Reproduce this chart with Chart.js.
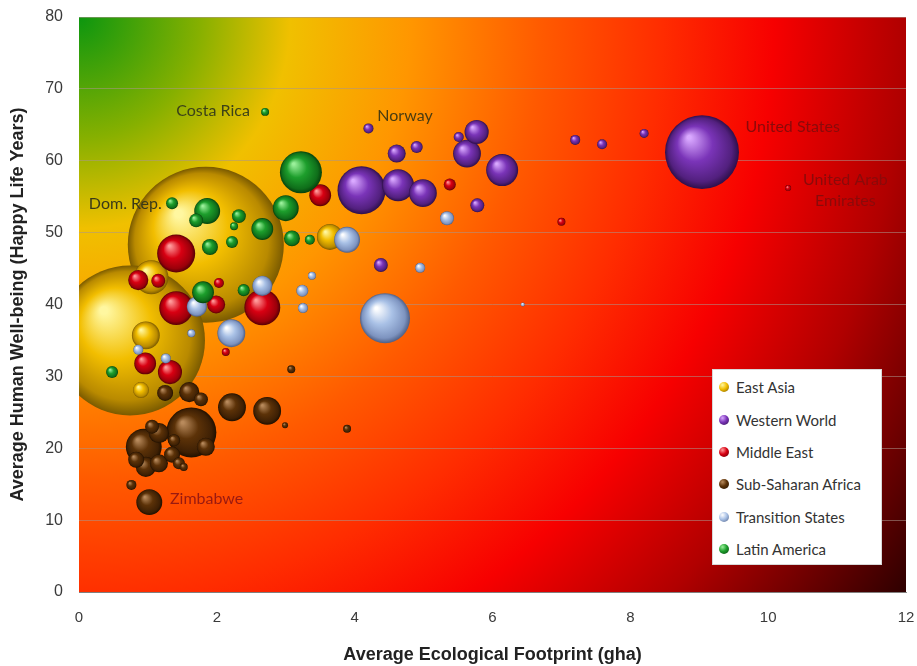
<!DOCTYPE html>
<html lang="en">
<head>
<meta charset="UTF-8">
<title>Happy Life Years vs Ecological Footprint</title>
<script src="https://cdn.jsdelivr.net/npm/chart.js"></script>
<style>
    body { margin: 0; background: #fff; }
    .wrap { position: relative; width: 917px; height: 666px; }
    #legend {
        position: absolute; left: 712px; top: 369px; width: 170px; height: 196px;
        background: #fff; border: 1px solid #d8d8d8; box-sizing: border-box; padding-top: 1px;
        font-family: Lato, "Open Sans", sans-serif; font-size: 15px; color: #333;
    }
    .item { display: flex; align-items: center; height: 32.4px; }
    .dot { width: 10px; height: 10px; border-radius: 50%; margin: 0 7px 0 6px; }
</style>
</head>
<body>
<div class="wrap">
    <canvas id="chart" width="917" height="666"></canvas>
    <div id="legend"></div>
</div>
<script>
// x = ecological footprint (gha), y = happy life years, pop = population (millions)
const eastAsiaX   = [1.84, 0.74, 1.05, 0.97, 0.90, 3.64];
const eastAsiaY   = [48.3, 35.0, 43.8, 35.7, 28.1, 49.4];
const eastAsiaPop = [1380, 1275, 66, 44, 14.5, 38];

const westernX   = [9.04, 4.10, 4.63, 4.99, 6.14, 5.63, 5.77, 5.51, 4.61, 4.90, 4.20, 7.20, 7.59, 8.20, 5.78, 4.38];
const westernY   = [61.2, 55.9, 56.6, 55.5, 58.7, 61.0, 64.0, 63.3, 61.0, 61.9, 64.5, 62.9, 62.3, 63.8, 53.8, 45.5];
const westernPop = [310, 131, 58, 44, 58, 44, 33, 5.7, 18.4, 8.2, 5.7, 5.7, 5.7, 4.6, 11, 11];

const middleEastX   = [1.41, 1.41, 2.66, 0.86, 1.15, 2.03, 1.99, 0.96, 1.32, 2.13, 3.50, 5.38, 7.00, 10.29];
const middleEastY   = [47.1, 39.5, 39.6, 43.4, 43.3, 43.0, 40.0, 31.8, 30.6, 33.4, 55.2, 56.7, 51.5, 56.2];
const middleEastPop = [82, 65, 73, 23, 11, 5.7, 18.4, 27, 33, 3.6, 27, 8.2, 3.6, 2.0];

const africaX   = [1.63, 0.94, 1.02, 2.22, 2.73, 1.60, 1.16, 0.97, 1.84, 1.16, 1.35, 0.83, 1.25, 1.77, 1.06, 1.45, 1.38, 0.76, 1.52, 2.99, 3.08, 3.89];
const africaY   = [22.2, 20.2, 12.5, 25.7, 25.2, 27.8, 22.1, 17.4, 20.2, 17.9, 19.1, 18.4, 27.7, 26.8, 23.0, 17.9, 21.1, 14.9, 17.4, 23.2, 31.0, 22.7];
const africaPop = [142, 73, 38, 44, 44, 23, 23, 23, 18.4, 18.4, 14.5, 14.5, 14.5, 11, 11, 8.2, 8.2, 5.7, 3.6, 2.0, 3.6, 3.6];

const transitionX   = [4.44, 3.89, 2.21, 2.66, 1.71, 5.34, 4.95, 3.38, 3.24, 3.25, 6.44, 1.63, 0.86, 1.26, 3.34, 3.89];
const transitionY   = [38.1, 49.0, 36.0, 42.6, 39.7, 52.0, 45.1, 44.0, 41.9, 39.5, 40.0, 36.0, 33.7, 32.5, 49.0, 54.1];
const transitionPop = [142, 38, 44, 23, 23, 11, 5.7, 3.6, 8.2, 5.7, 0.9, 3.6, 5.7, 5.7, 3.6, 2.0];

const latinX   = [3.22, 1.86, 3.00, 2.66, 1.80, 1.90, 3.09, 1.70, 2.32, 1.35, 2.22, 2.39, 0.48, 3.35, 2.25, 2.70];
const latinY   = [58.4, 53.0, 53.4, 50.5, 41.7, 48.0, 49.2, 51.7, 52.3, 54.1, 48.7, 42.0, 30.6, 49.0, 50.9, 66.8];
const latinPop = [100, 38, 38, 27, 27, 14.5, 14.5, 11, 11, 8.2, 8.2, 8.2, 8.2, 5.7, 3.6, 3.6];

const regionNames = ['East Asia', 'Western World', 'Middle East', 'Sub-Saharan Africa', 'Transition States', 'Latin America'];

// highlight, base, shade, rim
const regionColors = [
    ['#fff7a0', '#f2be00', '#b98a00', '#7a5a00'],
    ['#d9a8ff', '#7a34b8', '#52207e', '#2e0f4a'],
    ['#ff9a9a', '#d80012', '#9a000a', '#560004'],
    ['#b88a5c', '#5c3208', '#3e2004', '#201000'],
    ['#ffffff', '#a9c1e6', '#7d93bf', '#4e5f86'],
    ['#9af09a', '#1d9e2c', '#0f6e1a', '#06400c']
];

const xTicks = [0, 2, 4, 6, 8, 10, 12];
const yTicks = [0, 10, 20, 30, 40, 50, 60, 70, 80];

const labelText  = ['Costa Rica', 'Norway', 'United States', 'United Arab', 'Emirates', 'Dom. Rep.', 'Zimbabwe'];
const labelX     = [2.48, 4.73, 9.67, 11.12, 11.12, 1.20, 1.32];
const labelY     = [66.9, 66.2, 64.7, 57.4, 54.4, 54.0, 12.9];
const labelAlign = ['right', 'center', 'left', 'center', 'center', 'right', 'left'];
const labelColor = ['#3c4218', '#4a3c10', '#8a0a0a', '#8a0a0a', '#8a0a0a', '#3a3a18', '#9a1a10'];

const seriesX = [eastAsiaX, westernX, middleEastX, africaX, transitionX, latinX];
const seriesY = [eastAsiaY, westernY, middleEastY, africaY, transitionY, latinY];
const seriesPop = [eastAsiaPop, westernPop, middleEastPop, africaPop, transitionPop, latinPop];
// drawing order: bigger value = further back
const drawOrder = [6, 3, 5, 1, 4, 2];

const radiusOf = pop => 2.1 * Math.sqrt(pop);

function sphereFill(colors) {
    return (ctx) => {
        const chart = ctx.chart;
        const xs = chart.scales.x, ys = chart.scales.y;
        if (ctx.type !== 'data' || !xs || !ys || !chart.chartArea) return colors[1];
        const px = xs.getPixelForValue(ctx.raw.x);
        const py = ys.getPixelForValue(ctx.raw.y);
        const r = ctx.raw.r;
        const g = chart.ctx.createRadialGradient(px - r * 0.35, py - r * 0.4, r * 0.05, px, py, r);
        g.addColorStop(0, colors[0]);
        g.addColorStop(0.45, colors[1]);
        g.addColorStop(0.85, colors[2]);
        g.addColorStop(1, colors[3]);
        return g;
    };
}

const datasets = regionNames.map((name, i) => ({
    label: name,
    data: seriesX[i].map((x, j) => ({ x: x, y: seriesY[i][j], r: radiusOf(seriesPop[i][j]) })),
    backgroundColor: sphereFill(regionColors[i]),
    borderWidth: 0,
    order: drawOrder[i],
    clip: 0
}));

const backgroundPlugin = {
    id: 'plotBackground',
    beforeDraw(chart) {
        const { ctx, chartArea: a } = chart;
        const reach = Math.hypot(a.right - a.left, a.bottom - a.top);
        const g = ctx.createRadialGradient(a.left, a.top, 0, a.left, a.top, reach);
        g.addColorStop(0.00, '#0c960f');
        g.addColorStop(0.12, '#86b000');
        g.addColorStop(0.21, '#f0c000');
        g.addColorStop(0.33, '#ff9600');
        g.addColorStop(0.46, '#ff5a00');
        g.addColorStop(0.58, '#ff2c00');
        g.addColorStop(0.69, '#f70000');
        g.addColorStop(0.82, '#b00000');
        g.addColorStop(1.00, '#2e0000');
        ctx.save();
        ctx.fillStyle = g;
        ctx.fillRect(a.left, a.top, a.right - a.left, a.bottom - a.top);
        ctx.restore();
    }
};

const countryLabels = {
    id: 'countryLabels',
    afterDatasetsDraw(chart) {
        const { ctx, scales: { x, y } } = chart;
        ctx.save();
        ctx.font = '16px Lato, "Open Sans", sans-serif';
        ctx.textBaseline = 'middle';
        labelText.forEach((t, i) => {
            ctx.fillStyle = labelColor[i];
            ctx.textAlign = labelAlign[i];
            ctx.fillText(t, x.getPixelForValue(labelX[i]), y.getPixelForValue(labelY[i]));
        });
        ctx.restore();
    }
};

new Chart(document.getElementById('chart'), {
    type: 'bubble',
    data: { datasets: datasets },
    options: {
        responsive: false,
        animation: false,
        events: [],
        layout: { autoPadding: false, padding: { top: 17, right: 11, left: 0, bottom: 0 } },
        plugins: { legend: { display: false }, tooltip: { enabled: false } },
        scales: {
            x: {
                min: 0, max: 12,
                afterBuildTicks: s => { s.ticks = xTicks.map(v => ({ value: v })); },
                afterFit: s => { s.height = 74; },
                grid: { display: true, drawOnChartArea: false, color: 'transparent', tickColor: 'transparent', drawTicks: true, tickLength: 15 },
                border: { display: true, color: 'rgba(110,110,110,0.8)' },
                ticks: { padding: 2, color: '#3a3a3a', font: { family: '"Liberation Sans", Arial', size: 15 } },
                title: {
                    display: true, text: 'Average Ecological Footprint (gha)', color: '#222',
                    font: { family: '"Liberation Sans", Arial', size: 18, weight: 'bold' },
                    padding: { top: 0, bottom: 0 }
                }
            },
            y: {
                min: 0, max: 80,
                afterBuildTicks: s => { s.ticks = yTicks.map(v => ({ value: v })); },
                afterFit: s => { s.width = 79; },
                grid: { color: 'rgba(170,150,140,0.55)', lineWidth: 1, tickColor: 'transparent', drawTicks: true, tickLength: 14 },
                border: { display: false },
                ticks: { padding: 2, color: '#3a3a3a', font: { family: '"Liberation Sans", Arial', size: 16 } },
                title: {
                    display: true, text: 'Average Human Well-being (Happy Life Years)', color: '#222',
                    font: { family: '"Liberation Sans", Arial', size: 18, weight: 'bold' },
                    padding: { top: 7, bottom: 0 }
                }
            }
        }
    },
    plugins: [backgroundPlugin, countryLabels]
});

document.getElementById('legend').innerHTML = regionNames.map((name, i) => {
    const c = regionColors[i];
    return `<div class="item"><span class="dot" style="background: radial-gradient(circle at 35% 30%, ${c[0]}, ${c[1]} 45%, ${c[3]})"></span>${name}</div>`;
}).join('');
</script>
</body>
</html>
